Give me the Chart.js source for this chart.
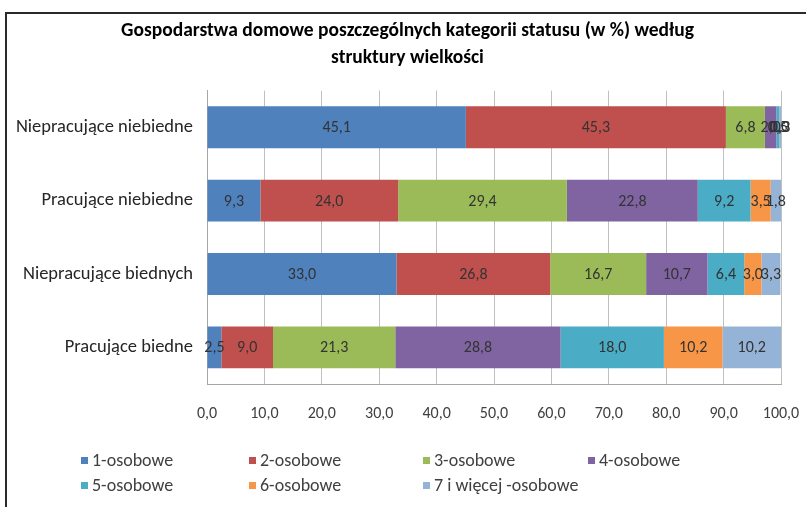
<!DOCTYPE html>
<html>
<head>
<meta charset="utf-8">
<script src="https://cdn.jsdelivr.net/npm/chart.js@4/dist/chart.umd.min.js"></script>
<style>
  html, body { margin: 0; padding: 0; background: #fff; }
  #wrap { position: relative; width: 806px; height: 507px; overflow: hidden; }
  #frame { position: absolute; left: 5px; top: 12px; width: 900px; height: 600px;
           border-left: 2px solid #2a2a2a; border-top: 2px solid #2a2a2a; pointer-events: none; }
</style>
</head>
<body>
<div id="wrap">
  <canvas id="chart" width="806" height="507"></canvas>
  <div id="frame"></div>
</div>
<script>
const FONT = "Carlito, Lato, 'Open Sans', sans-serif";

const categories = [
  "Niepracujące niebiedne",
  "Pracujące niebiedne",
  "Niepracujące biednych",
  "Pracujące biedne",
];

const seriesNames = [
  "1-osobowe", "2-osobowe", "3-osobowe", "4-osobowe",
  "5-osobowe", "6-osobowe", "7 i więcej -osobowe",
];

// one array per household size, values in category order
const osob1 = [45.1, 9.3, 33.0, 2.5];
const osob2 = [45.3, 24.0, 26.8, 9.0];
const osob3 = [6.8, 29.4, 16.7, 21.3];
const osob4 = [2.0, 22.8, 10.7, 28.8];
const osob5 = [0.5, 9.2, 6.4, 18.0];
const osob6 = [0.0, 3.5, 3.0, 10.2];
const osob7 = [0.3, 1.8, 3.3, 10.2];

const xTicks = [0, 10, 20, 30, 40, 50, 60, 70, 80, 90, 100];

const colors = ["#4F81BD", "#C0504D", "#9BBB59", "#8064A2", "#4BACC6", "#F79646", "#95B3D7"];

const fmt = (v) => v.toFixed(1).replace(".", ",");

// title in the original sits a bit right of the plot centre
const shiftTitle = {
  id: "shiftTitle",
  afterLayout(chart) {
    if (chart.titleBlock) chart.titleBlock.left += 24;
  },
};

const valueLabels = {
  id: "valueLabels",
  afterDatasetsDraw(chart) {
    const ctx = chart.ctx;
    ctx.save();
    ctx.font = "16px " + FONT;
    ctx.fillStyle = "#333333";
    ctx.textAlign = "center";
    ctx.textBaseline = "middle";
    chart.data.datasets.forEach((ds, i) => {
      const meta = chart.getDatasetMeta(i);
      meta.data.forEach((bar, j) => {
        const x = (bar.x + bar.base) / 2;
        ctx.fillText(fmt(ds.data[j]), x, bar.y + 1);
      });
    });
    ctx.restore();
  },
};

const gridLegend = {
  id: "gridLegend",
  afterDraw(chart) {
    const ctx = chart.ctx;
    const cols = [81, 249, 423, 588];
    const rows = [461, 486];
    ctx.save();
    ctx.font = "18px " + FONT;
    ctx.textBaseline = "middle";
    ctx.textAlign = "left";
    chart.data.datasets.forEach((ds, i) => {
      const x = cols[i % 4];
      const y = rows[Math.floor(i / 4)];
      ctx.fillStyle = ds.backgroundColor;
      ctx.fillRect(x, y - 4, 7, 7);
      ctx.fillStyle = "#404040";
      ctx.fillText(ds.label, x + 11, y);
    });
    ctx.restore();
  },
};

const allSeries = [osob1, osob2, osob3, osob4, osob5, osob6, osob7];

new Chart(document.getElementById("chart"), {
  type: "bar",
  data: {
    labels: categories,
    datasets: allSeries.map((d, i) => ({
      label: seriesNames[i],
      data: d,
      backgroundColor: colors[i],
      borderWidth: 0,
      categoryPercentage: 1,
      barPercentage: 0.57,
    })),
  },
  options: {
    indexAxis: "y",
    responsive: false,
    animation: false,
    layout: { padding: { left: 10, right: 25, top: 0, bottom: 83 } },
    plugins: {
      legend: { display: false },
      tooltip: { enabled: false },
      title: {
        display: true,
        text: [
          "Gospodarstwa domowe poszczególnych kategorii statusu (w %) według",
          "struktury wielkości",
        ],
        color: "#000",
        font: { family: FONT, size: 19.5, weight: "bold", lineHeight: 1.4 },
        padding: { top: 17, bottom: 19 },
      },
    },
    scales: {
      x: {
        stacked: true,
        min: 0,
        max: 100,
        afterBuildTicks(scale) {
          scale.ticks = xTicks.map((v) => ({ value: v }));
        },
        afterFit(scale) { scale.height = 40; },
        ticks: {
          callback: (v) => fmt(v),
          color: "#404040",
          font: { family: FONT, size: 16 },
          padding: 4,
          maxRotation: 0,
        },
        grid: { color: "#c0c0c0", drawTicks: true, tickLength: 16, tickColor: "rgba(0,0,0,0)" },
        border: { color: "#a6a6a6" },
      },
      y: {
        stacked: true,
        afterFit(scale) { scale.width = 197; },
        ticks: {
          color: "#262626",
          font: { family: FONT, size: 18.5 },
          padding: 14,
        },
        grid: { color: "rgba(0,0,0,0)", drawTicks: false },
        border: { color: "#a6a6a6" },
      },
    },
  },
  plugins: [shiftTitle, valueLabels, gridLegend],
});
</script>
</body>
</html>
